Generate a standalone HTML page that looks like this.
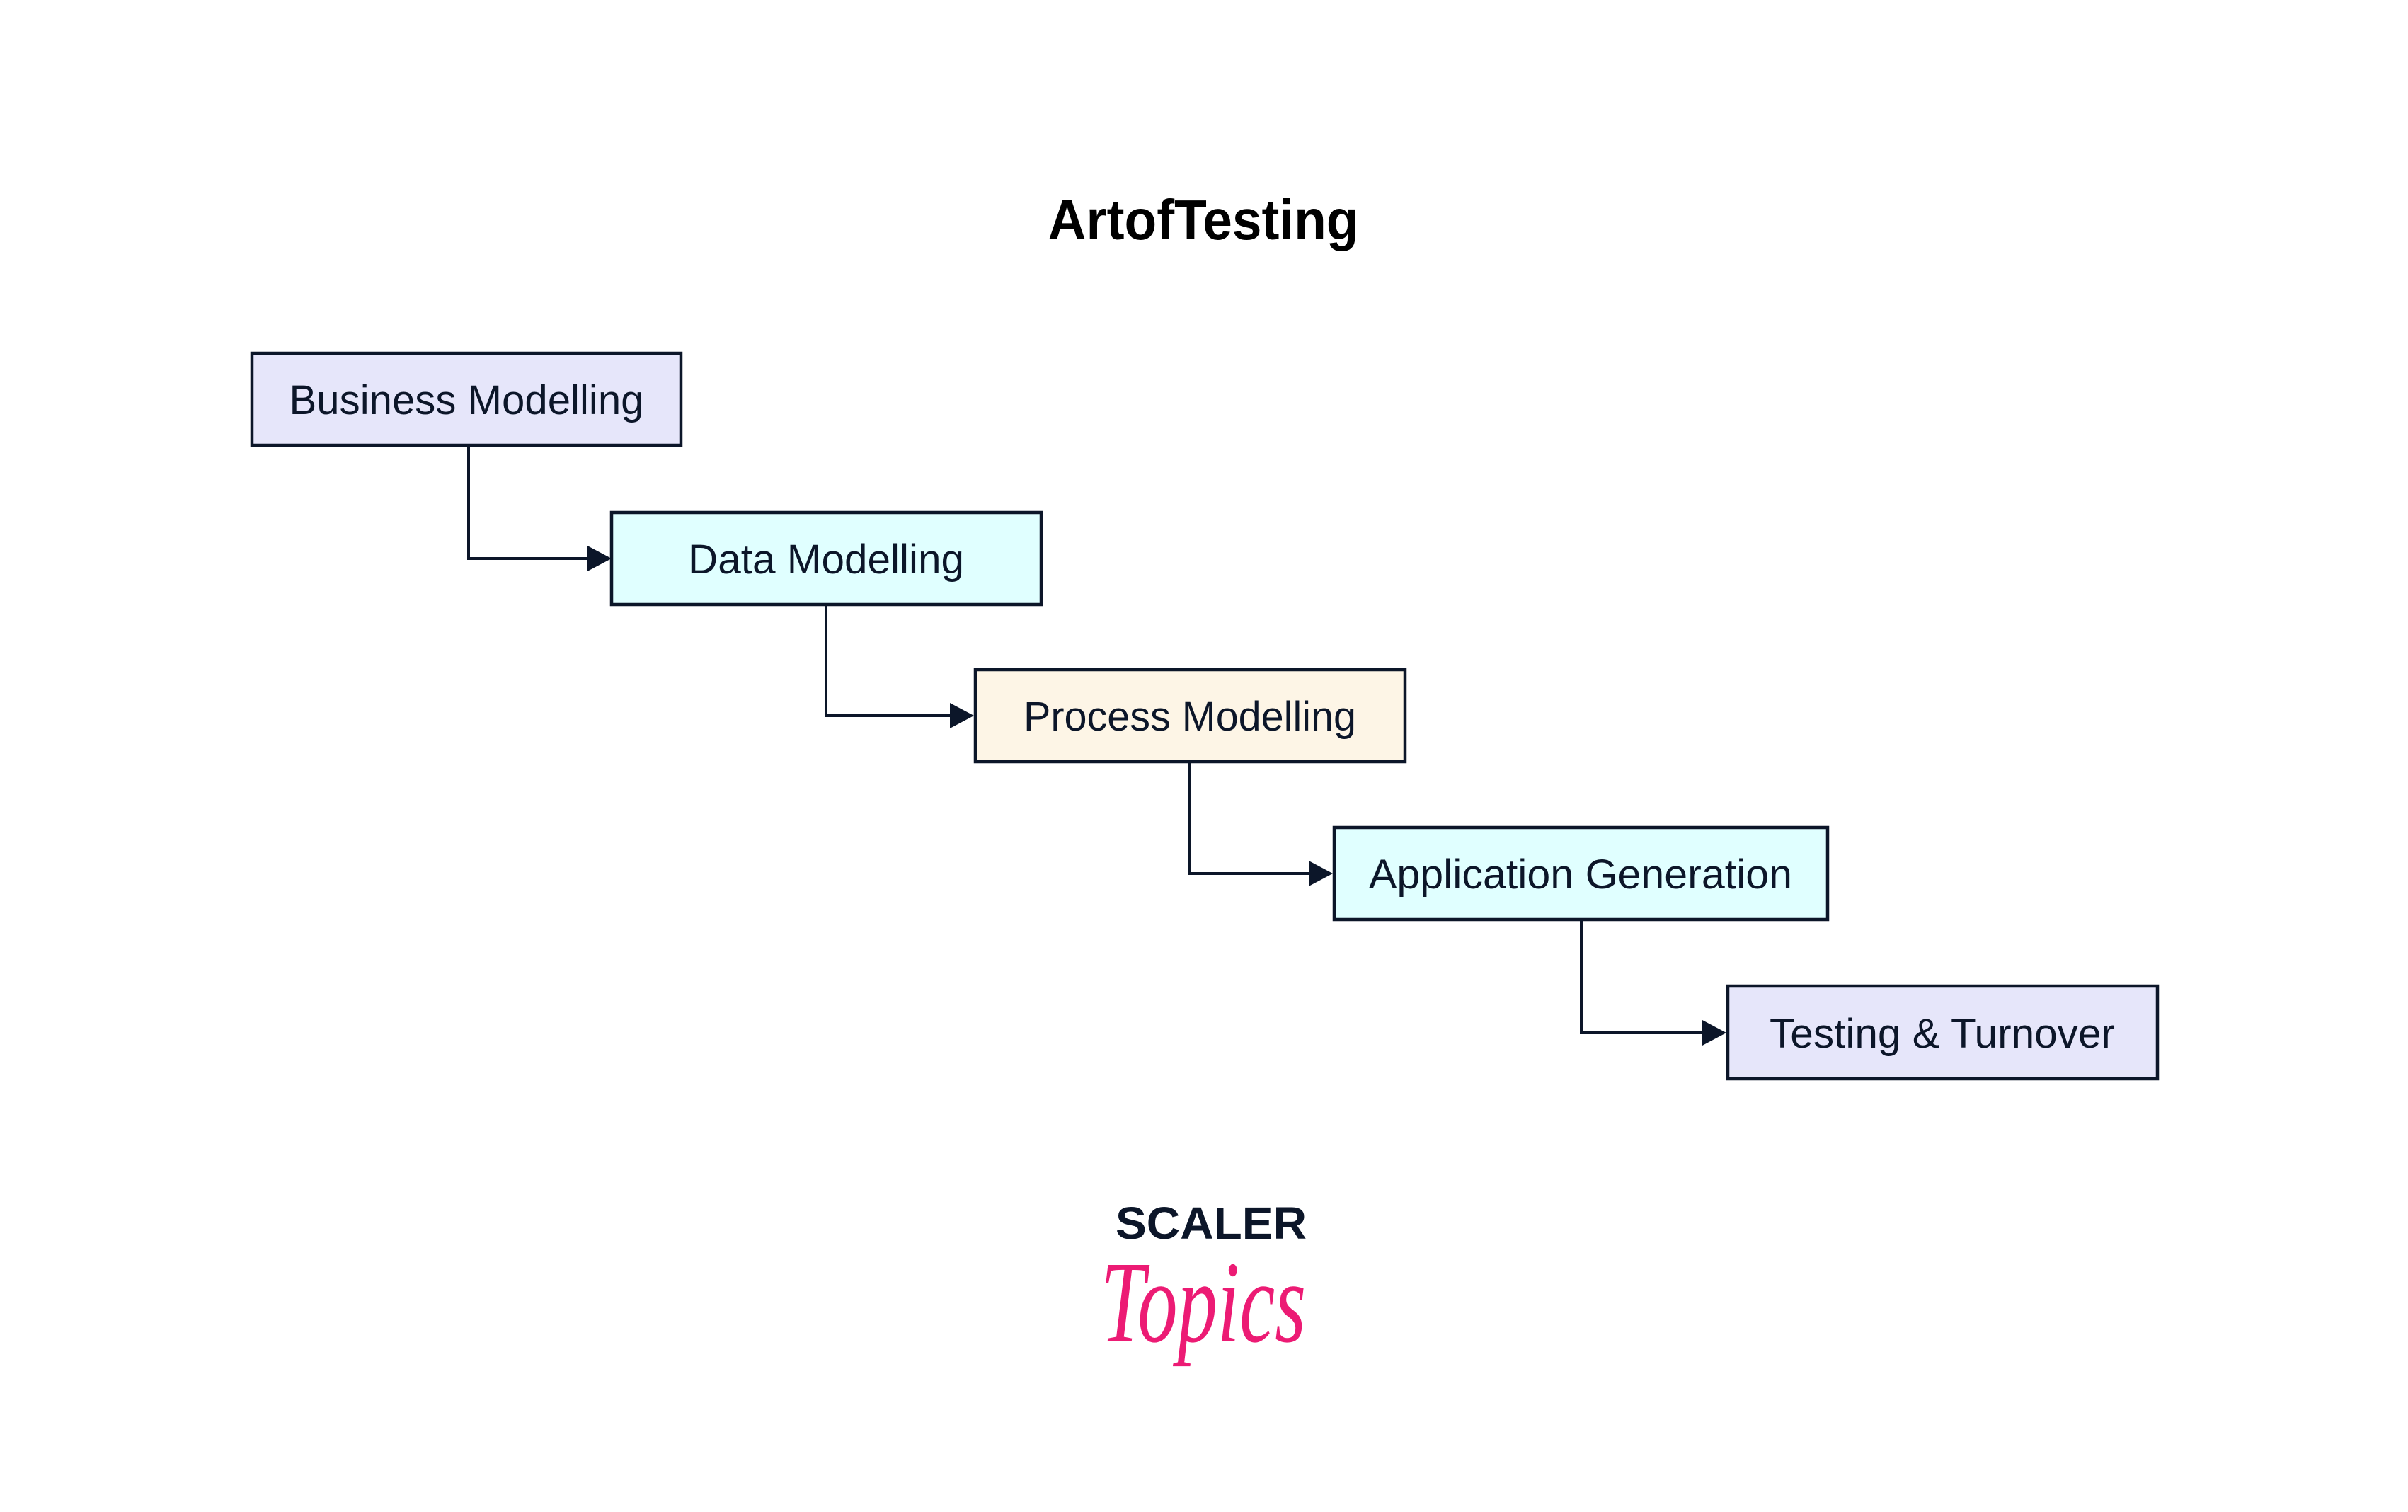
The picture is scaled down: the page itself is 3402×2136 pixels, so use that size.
<!DOCTYPE html>
<html><head><meta charset="utf-8"><style>html,body{margin:0;padding:0;background:#fff}svg{display:block}</style></head>
<body>
<svg width="3402" height="2136" viewBox="0 0 3402 2136" xmlns="http://www.w3.org/2000/svg">
<rect width="3402" height="2136" fill="#fff"/>
<text x="1700" y="338" text-anchor="middle" font-family="Liberation Sans, sans-serif" font-weight="bold" font-size="80" textLength="439" lengthAdjust="spacingAndGlyphs" fill="#000">ArtofTesting</text>
<g stroke="#0c1629" stroke-width="4.5">
<rect x="356" y="499" width="606" height="130" fill="#e6e6fa"/>
<rect x="864" y="724" width="607" height="130" fill="#e0ffff"/>
<rect x="1378" y="946" width="607" height="130" fill="#fdf5e6"/>
<rect x="1885" y="1169" width="697" height="130" fill="#e0ffff"/>
<rect x="2441" y="1393" width="607" height="131" fill="#e6e6fa"/>
</g>
<g fill="none" stroke="#0c1629" stroke-width="4">
<path d="M662 631 V789 H832"/>
<path d="M1167 856 V1011 H1344"/>
<path d="M1681 1078 V1234 H1851"/>
<path d="M2234 1301 V1459 H2407"/>
</g>
<g fill="#0c1629">
<path d="M830 771 L864 789 L830 807Z"/>
<path d="M1342 993 L1376 1011 L1342 1029Z"/>
<path d="M1849 1216 L1883 1234 L1849 1252Z"/>
<path d="M2405 1441 L2439 1459 L2405 1477Z"/>
</g>
<g font-family="Liberation Sans, sans-serif" font-size="58" fill="#0c1629" text-anchor="middle">
<text x="659" y="585" textLength="501" lengthAdjust="spacingAndGlyphs">Business Modelling</text>
<text x="1167" y="810" textLength="390" lengthAdjust="spacingAndGlyphs">Data Modelling</text>
<text x="1681" y="1032" textLength="470" lengthAdjust="spacingAndGlyphs">Process Modelling</text>
<text x="2233" y="1255" textLength="598" lengthAdjust="spacingAndGlyphs">Application Generation</text>
<text x="2744" y="1480" textLength="488" lengthAdjust="spacingAndGlyphs">Testing &amp; Turnover</text>
</g>
<text x="1711" y="1750" text-anchor="middle" font-family="Liberation Sans, sans-serif" font-weight="bold" font-size="64" textLength="270" lengthAdjust="spacingAndGlyphs" fill="#0c1629">SCALER</text>
<text x="1700" y="1895" text-anchor="middle" font-family="Liberation Serif, serif" font-style="italic" font-size="165" textLength="290" lengthAdjust="spacingAndGlyphs" fill="#ec1b74">Topics</text>
</svg>
</body></html>
